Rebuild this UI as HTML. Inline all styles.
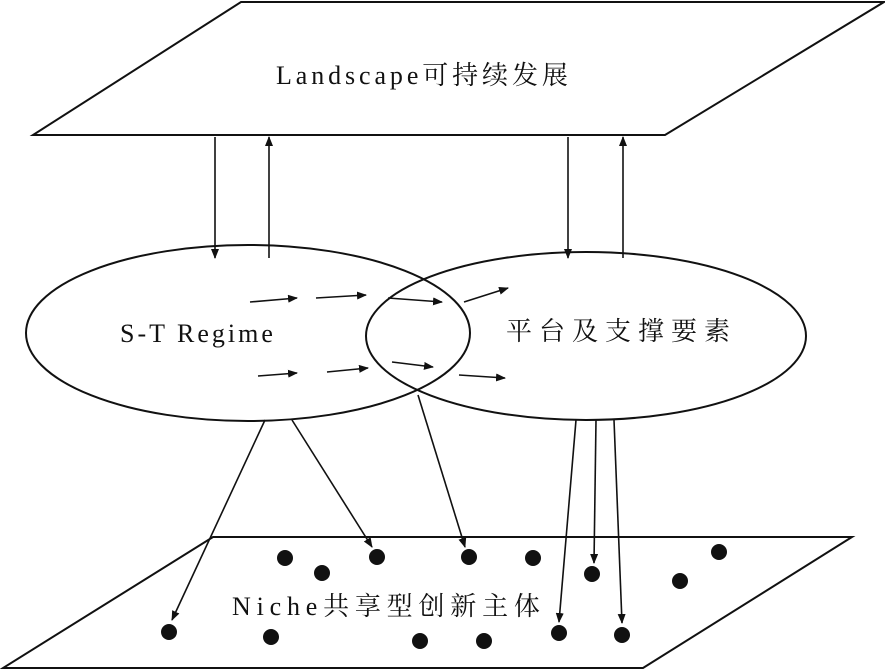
<!DOCTYPE html>
<html><head><meta charset="utf-8"><style>
body{margin:0;background:#fff}
svg{display:block}
text{font-family:"Liberation Serif","Noto Serif CJK SC",serif;fill:#111}
</style></head><body>
<svg width="885" height="670" viewBox="0 0 885 670">
<defs><marker id="a" markerWidth="10" markerHeight="8" refX="9" refY="4" orient="auto" markerUnits="userSpaceOnUse"><path d="M0,0L10,4L0,8z" fill="#111"/></marker></defs>
<g fill="none" stroke="#111" stroke-width="2">
<polygon points="241,2 884,2 665,135 33,135"/>
<polygon points="213,537 852,537 643,668 3,668"/>
<ellipse cx="248" cy="333" rx="222" ry="88"/>
<ellipse cx="586" cy="336" rx="220" ry="84"/>
</g>
<g stroke="#111" stroke-width="1.6" marker-end="url(#a)">
<line x1="215" y1="137" x2="215" y2="258"/>
<line x1="269" y1="258" x2="269" y2="137"/>
<line x1="568" y1="137" x2="568" y2="258"/>
<line x1="623" y1="258" x2="623" y2="137"/>
<line x1="250" y1="302" x2="297" y2="298"/>
<line x1="316" y1="298" x2="366" y2="295"/>
<line x1="388" y1="298" x2="442" y2="302"/>
<line x1="464" y1="302" x2="508" y2="288"/>
<line x1="258" y1="376" x2="297" y2="373"/>
<line x1="327" y1="372" x2="368" y2="368"/>
<line x1="392" y1="362" x2="433" y2="367"/>
<line x1="459" y1="375" x2="505" y2="378"/>
<line x1="265" y1="420" x2="172" y2="620"/>
<line x1="292" y1="420" x2="372" y2="547"/>
<line x1="418" y1="395" x2="465" y2="547"/>
<line x1="576" y1="420" x2="559" y2="622"/>
<line x1="596" y1="420" x2="594" y2="563"/>
<line x1="614" y1="420" x2="622" y2="623"/>
</g>
<g fill="#111">
<circle cx="285" cy="558" r="8"/><circle cx="322" cy="573" r="8"/><circle cx="377" cy="557" r="8"/>
<circle cx="469" cy="557" r="8"/><circle cx="533" cy="558" r="8"/><circle cx="592" cy="574" r="8"/>
<circle cx="719" cy="552" r="8"/><circle cx="680" cy="581" r="8"/><circle cx="169" cy="632" r="8"/>
<circle cx="271" cy="637" r="8"/><circle cx="420" cy="641" r="8"/><circle cx="484" cy="641" r="8"/>
<circle cx="559" cy="633" r="8"/><circle cx="622" cy="635" r="8"/>
</g>
<text x="276" y="84" font-size="26" letter-spacing="3.9">Landscape可持续发展</text>
<text x="120" y="342" font-size="26" letter-spacing="3">S-T Regime</text>
<text x="506" y="340" font-size="26" letter-spacing="7">平台及支撑要素</text>
<text x="232" y="615" font-size="26" letter-spacing="5.8">Niche共享型创新主体</text>
</svg>
</body></html>
